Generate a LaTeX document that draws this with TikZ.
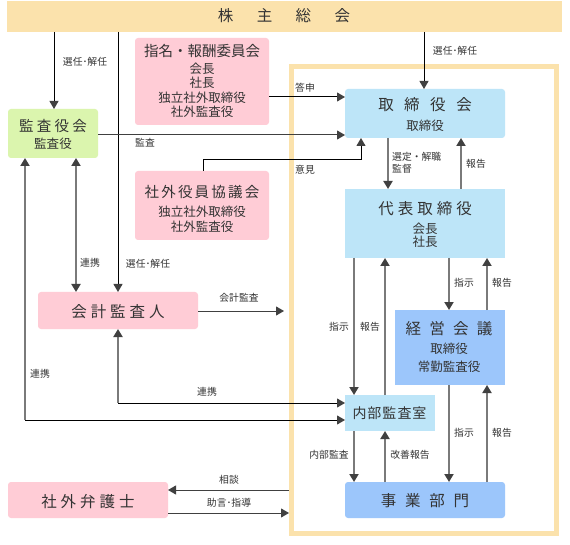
\documentclass[tikz,border=0pt]{standalone}
\usepackage{fontspec}
\setmainfont{Noto Sans CJK JP}
\usetikzlibrary{arrows.meta}
\definecolor{cream}{HTML}{FBE2AC}
\definecolor{pinkbox}{HTML}{FFCCD6}
\definecolor{greenbox}{HTML}{DBF5AE}
\definecolor{lblue}{HTML}{BDE5F8}
\definecolor{dblue}{HTML}{9CC6FB}
\definecolor{linegray}{HTML}{7A7A7A}
\definecolor{tipc}{HTML}{404040}
\definecolor{txtc}{HTML}{333333}
\begin{document}
\begin{tikzpicture}[x=1pt,y=-1pt,
  box/.style={draw=none,rounded corners=3pt,inner sep=0pt,outer sep=0pt},
  txt/.style={inner sep=0pt,anchor=center,text=txtc},
  ttl/.style={txt,font=\fontsize{15.5}{18}\selectfont},
  ttls/.style={txt,font=\fontsize{14.5}{17}\selectfont},
  sub/.style={txt,font=\fontsize{12.5}{15}\selectfont},
  lbl/.style={txt,font=\fontsize{9.8}{12}\selectfont},
  bl/.style={draw=black,line width=1pt},
  dg/.style={draw=tipc,line width=1pt},
  gr/.style={draw=linegray,line width=1.8pt},
  tp/.tip={Triangle[width=9pt,length=8pt,color=tipc]}
]
\useasboundingbox (0,0) rectangle (570,545);
\fill[white] (0,0) rectangle (570,545);

% frame and top bar
\node[draw=cream,line width=5pt,minimum width=265pt,minimum height=467pt,inner sep=0pt] (frame) at (424,300) {};
\node[fill=cream,minimum width=555pt,minimum height=31pt,inner sep=0pt,outer sep=0pt] (top) at (284.5,16.5) {};
\node[ttl] (tTop) at (284,16) {株\hspace{23.5pt}主\hspace{23.5pt}総\hspace{23.5pt}会};

% boxes
\node[box,fill=greenbox,minimum width=90pt,minimum height=49pt] (kansa) at (53,133.5) {};
\node[box,fill=pinkbox,minimum width=134pt,minimum height=87pt] (shimei) at (202,81.5) {};
\node[box,fill=pinkbox,minimum width=134pt,minimum height=69pt] (shagai) at (202,205.5) {};
\node[box,fill=lblue,minimum width=160pt,minimum height=49pt] (torishimari) at (425,113.5) {};
\node[box,fill=lblue,minimum width=160pt,minimum height=69pt,rounded corners=0pt] (daihyo) at (425,223.5) {};
\node[box,fill=dblue,minimum width=110pt,minimum height=75pt,rounded corners=0pt] (keiei) at (450,347.5) {};
\node[box,fill=lblue,minimum width=90pt,minimum height=36pt,rounded corners=0pt] (naibu) at (390,413) {};
\node[box,fill=dblue,minimum width=160pt,minimum height=36pt] (jigyo) at (425,500) {};
\node[box,fill=pinkbox,minimum width=160pt,minimum height=37pt] (kaikei) at (118,310.5) {};
\node[box,fill=pinkbox,minimum width=160pt,minimum height=36pt] (bengo) at (88,500) {};

% box texts
\node[ttls] (tKansa) at (53,126) {監\hspace{3.3pt}査\hspace{3.3pt}役\hspace{3.3pt}会};
\node[sub] (sKansa) at (53,144) {監査役};
\node[ttls] (tShimei) at (202,51) {指名・報酬委員会};
\node[sub] (sShimei1) at (202,69) {会長};
\node[sub] (sShimei2) at (202,83) {社長};
\node[sub] (sShimei3) at (202,98) {独立社外取締役};
\node[sub] (sShimei4) at (202,112) {社外監査役};
\node[ttls] (tShagai) at (202,192) {社\hspace{2.2pt}外\hspace{2.2pt}役\hspace{2.2pt}員\hspace{2.2pt}協\hspace{2.2pt}議\hspace{2.2pt}会};
\node[sub] (sShagai1) at (202,212) {独立社外取締役};
\node[sub] (sShagai2) at (202,227) {社外監査役};
\node[ttl] (tTori) at (425,105) {取\hspace{10.5pt}締\hspace{10.5pt}役\hspace{10.5pt}会};
\node[sub] (sTori) at (425,126) {取締役};
\node[ttl] (tDaihyo) at (425,209) {代\hspace{4pt}表\hspace{4pt}取\hspace{4pt}締\hspace{4pt}役};
\node[sub] (sDaihyo1) at (425,229) {会長};
\node[sub] (sDaihyo2) at (425,242) {社長};
\node[ttl] (tKeiei) at (449,329) {経\hspace{8.2pt}営\hspace{8.2pt}会\hspace{8.2pt}議};
\node[sub] (sKeiei1) at (449,349) {取締役};
\node[sub] (sKeiei2) at (449,367) {常勤監査役};
\node[txt,font=\fontsize{14}{17}\selectfont] (tNaibu) at (389.5,413) {内\hspace{1pt}部\hspace{1pt}監\hspace{1pt}査\hspace{1pt}室};
\node[ttl] (tJigyo) at (425,501) {事\hspace{8.8pt}業\hspace{8.8pt}部\hspace{8.8pt}門};
\node[ttl] (tKaikei) at (118,311.5) {会\hspace{4pt}計\hspace{4pt}監\hspace{4pt}査\hspace{4pt}人};
\node[ttl] (tBengo) at (88,501.5) {社\hspace{4pt}外\hspace{4pt}弁\hspace{4pt}護\hspace{4pt}士};

% helper coordinates
\coordinate (c25) at (25,0);
\coordinate (c54) at (54,0);
\coordinate (c76) at (76,0);
\coordinate (c118) at (118,0);
\coordinate (c203) at (203,0);
\coordinate (c354) at (354,0);
\coordinate (c361) at (361,0);
\coordinate (c385) at (385,0);
\coordinate (c388) at (388,0);
\coordinate (c424) at (424,0);
\coordinate (c449) at (449,0);
\coordinate (c461) at (461,0);
\coordinate (c487) at (487,0);
\coordinate (y97) at (0,97);
\coordinate (y135) at (0,135);
\coordinate (y160) at (0,160);
\coordinate (y311) at (0,311);
\coordinate (y403) at (0,403);
\coordinate (y420) at (0,420);
\coordinate (y490) at (0,490);
\coordinate (y513) at (0,513);
\coordinate (accEnd) at (284,311);

% connectors from the shareholders meeting
\draw[bl,-tp] (top.south -| c54) -- (kansa.north -| c54);
\draw[bl,-tp] (top.south -| c118) -- (kaikei.north);
\draw[bl,-tp] (top.south -| c424) -- (torishimari.north -| c424);
\node[lbl] (l1) at (85,62) {選任･解任};
\node[lbl] (l2) at (148,264) {選任･解任};
\node[lbl] (l3) at (455,51) {選任･解任};

% into the board
\draw[bl,-tp] (shimei.east |- y97) -- (torishimari.west |- y97);
\node[lbl] (l4) at (305,88) {答申};
\draw[dg,-tp] (kansa.east |- y135) -- (torishimari.west |- y135);
\node[lbl] (l5) at (145,143) {監査};
\draw[bl,-tp] (shagai.north -| c203) -- (c203 |- y160) -- (c361 |- y160) -- (torishimari.south -| c361);
\node[lbl] (l6) at (305,170) {意見};

% board <-> representative director
\draw[gr,-tp] (torishimari.south -| c388) -- (daihyo.north -| c388);
\node[lbl,anchor=west,align=left,font=\fontsize{9.8}{12}\selectfont] (l7) at (392,163) {選定・解職\\監督};
\draw[gr,-tp] (daihyo.north -| c461) -- (torishimari.south -| c461);
\node[lbl] (l8) at (476,164) {報告};

% representative director <-> internal audit
\draw[gr,-tp] (daihyo.south -| c354) -- (naibu.north -| c354);
\node[lbl] (l9) at (339,327) {指示};
\draw[gr,-tp] (naibu.north -| c385) -- (daihyo.south -| c385);
\node[lbl] (l10) at (370,327) {報告};

% representative director <-> management meeting
\draw[gr,-tp] (daihyo.south -| c449) -- (keiei.north -| c449);
\node[lbl] (l11) at (464,283) {指示};
\draw[gr,-tp] (keiei.north -| c487) -- (daihyo.south -| c487);
\node[lbl] (l12) at (502,283) {報告};

% management meeting <-> business division
\draw[gr,-tp] (keiei.south -| c449) -- (jigyo.north -| c449);
\node[lbl] (l13) at (464,433) {指示};
\draw[gr,-tp] (jigyo.north -| c487) -- (keiei.south -| c487);
\node[lbl] (l14) at (502,433) {報告};

% internal audit <-> business division
\draw[gr,-tp] (naibu.south -| c354) -- (jigyo.north -| c354);
\node[lbl] (l15) at (329,455) {内部監査};
\draw[gr,-tp] (jigyo.north -| c385) -- (naibu.south -| c385);
\node[lbl] (l16) at (410,455) {改善報告};

% accounting auditor
\draw[dg,-tp] (kaikei.east |- y311) -- (accEnd);
\node[lbl] (l17) at (239,298) {会計監査};
\draw[gr,tp-] (kaikei.south) -- (c118 |- y403);
\draw[bl,-tp] (c118 |- y403) -- (naibu.west |- y403);
\node[lbl] (l18) at (207,392) {連携};

% audit board links
\draw[gr,tp-] (kansa.south -| c25) -- (c25 |- y420);
\draw[bl,-tp] (c25 |- y420) -- (naibu.west |- y420);
\node[lbl] (l19) at (40,374) {連携};
\draw[gr,tp-tp] (kansa.south -| c76) -- (kaikei.north -| c76);
\node[lbl] (l20) at (90,263) {連携};

% outside lawyer
\draw[dg,-tp] (frame.west |- y490) -- (bengo.east |- y490);
\node[lbl] (l21) at (229,480) {相談};
\draw[dg,-tp] (bengo.east |- y513) -- (frame.west |- y513);
\node[lbl] (l22) at (229,503) {助言･指導};
\end{tikzpicture}
\end{document}
